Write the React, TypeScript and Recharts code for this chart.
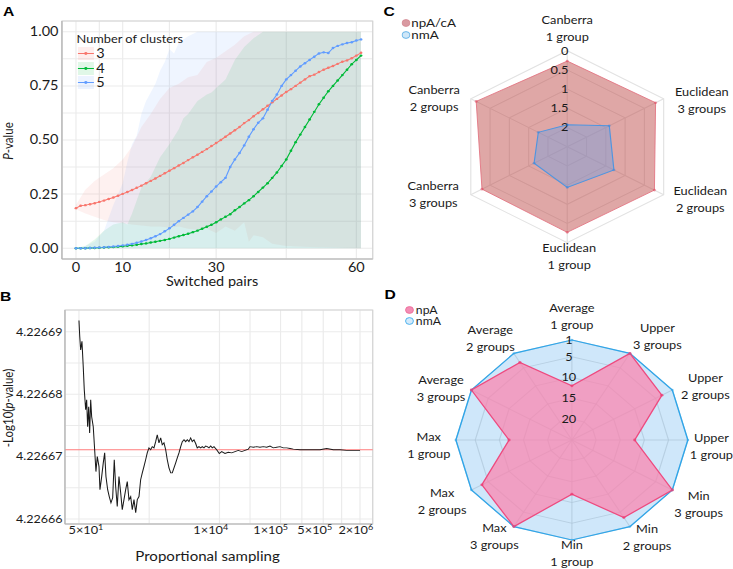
import React from 'react';
import {
  ComposedChart,
  LineChart,
  Line,
  Area,
  XAxis,
  YAxis,
  CartesianGrid,
  Legend,
  ReferenceLine,
  ReferenceArea,
  Label,
  RadarChart,
  Radar,
  PolarGrid,
  PolarAngleAxis,
  PolarRadiusAxis,
} from 'recharts';

const FONT = 'Lato, "Open Sans", sans-serif';
const INK = '#1a1a1a';
const AXIS_GRAY = '#b3b3b3';
const GRID_GRAY = '#ebebeb';
// the published figure is stretched horizontally, so everything is drawn narrower and scaled
const STRETCH = 1.16;

// ---------- Panel A: P-value vs switched pairs ----------
const switchedPairs = [
  0, 1, 2, 3, 4, 5, 6, 7, 8, 9, 10, 11, 12, 13, 14, 15, 16, 17, 18, 19, 20, 21, 22, 23, 24, 25, 26, 27, 28, 29,
  30, 31, 32, 33, 34, 35, 36, 37, 38, 39, 40, 41, 42, 43, 44, 45, 46, 47, 48, 49, 50, 51, 52, 53, 54, 55, 56, 57,
  58, 59, 60, 61,
];
const pvalK3 = [
  0.185, 0.196, 0.199, 0.203, 0.208, 0.214, 0.22, 0.227, 0.234, 0.242,
  0.251, 0.26, 0.269, 0.279, 0.289, 0.3, 0.311, 0.322, 0.334, 0.346,
  0.358, 0.37, 0.382, 0.394, 0.407, 0.42, 0.432, 0.445, 0.458, 0.472,
  0.486, 0.5, 0.515, 0.53, 0.545, 0.56, 0.578, 0.592, 0.61, 0.625,
  0.642, 0.658, 0.674, 0.69, 0.706, 0.722, 0.735, 0.75, 0.765, 0.78,
  0.795, 0.802, 0.814, 0.825, 0.834, 0.842, 0.852, 0.862, 0.868, 0.878,
  0.89, 0.903,
];
const pvalK4 = [
  0, 0, 0, 0.001, 0.001, 0.002, 0.003, 0.004, 0.005, 0.007,
  0.009, 0.011, 0.013, 0.016, 0.019, 0.022, 0.026, 0.03, 0.034, 0.038,
  0.043, 0.049, 0.055, 0.061, 0.067, 0.074, 0.081, 0.09, 0.099, 0.108,
  0.12, 0.133, 0.145, 0.157, 0.175, 0.19, 0.207, 0.222, 0.24, 0.26,
  0.28, 0.3, 0.325, 0.35, 0.38, 0.41, 0.45, 0.49, 0.525, 0.56,
  0.595, 0.63, 0.665, 0.695, 0.725, 0.75, 0.775, 0.8, 0.825, 0.85,
  0.87, 0.89,
];
const pvalK5 = [
  0, 0, 0, 0.001, 0.002, 0.003, 0.004, 0.006, 0.008, 0.01,
  0.013, 0.016, 0.02, 0.025, 0.031, 0.038, 0.046, 0.055, 0.065, 0.078,
  0.092, 0.108, 0.125, 0.14, 0.155, 0.17, 0.19, 0.215, 0.24, 0.262,
  0.285, 0.305, 0.325, 0.375, 0.41, 0.44, 0.475, 0.515, 0.55, 0.58,
  0.6, 0.64, 0.68, 0.71, 0.75, 0.78, 0.8, 0.82, 0.84, 0.855,
  0.87, 0.885, 0.9, 0.905, 0.902, 0.925, 0.935, 0.942, 0.948, 0.952,
  0.96, 0.965,
];

// ribbons (range of p-values)
const ribbonK3X = [0, 2, 4, 6, 8, 10, 12, 14, 16, 18, 20, 22, 24, 26, 28, 30, 32, 34, 36, 37, 38, 40, 42, 45, 50, 55, 61];
const ribbonK3Low = [
  0.18, 0.16, 0.145, 0.13, 0.12, 0.115, 0.11, 0.105, 0.1, 0.1, 0.095, 0.1, 0.09, 0.085, 0.09, 0.07, 0.1, 0.08, 0.12,
  0.03, 0.06, 0.05, 0.02, 0.01, 0.005, 0.003, 0,
];
const ribbonK3High = [
  0.2, 0.27, 0.31, 0.34, 0.37, 0.41, 0.47, 0.56, 0.62, 0.69, 0.74, 0.76, 0.79, 0.8, 0.86, 0.88, 0.91, 0.94, 0.98,
  0.99, 1, 1, 1, 1, 1, 1, 1,
];
const ribbonK4X = [0, 2, 4, 6, 8, 10, 11, 12, 13, 14, 16, 18, 20, 22, 23, 24, 26, 28, 29, 30, 32, 34, 36, 38, 40, 42, 61];
const ribbonK4Low = [0, 0, 0, 0, 0, 0, 0, 0, 0, 0, 0, 0, 0, 0, 0, 0, 0, 0, 0, 0, 0, 0, 0, 0, 0, 0, 0];
const ribbonK4High = [
  0, 0.01, 0.04, 0.08, 0.11, 0.12, 0.11, 0.16, 0.22, 0.28, 0.33, 0.42, 0.48, 0.55, 0.6, 0.62, 0.68, 0.71, 0.72,
  0.74, 0.78, 0.87, 0.93, 0.97, 1, 1, 1,
];
const ribbonK5X = [0, 2, 4, 6, 8, 10, 11, 12, 13, 14, 15, 16, 17, 18, 19, 20, 21, 22, 24, 26, 61];
const ribbonK5Low = [0, 0, 0, 0, 0, 0, 0, 0, 0, 0, 0, 0, 0, 0, 0, 0, 0, 0, 0, 0, 0];
const ribbonK5High = [0, 0.01, 0.03, 0.08, 0.2, 0.3, 0.4, 0.48, 0.52, 0.62, 0.68, 0.72, 0.76, 0.82, 0.86, 0.92, 0.9, 0.95, 0.98, 1, 1];

const clusterLabels = ['3', '4', '5'];
const clusterColors = ['#F8766D', '#00BA38', '#619CFF'];
const aXGrid = [0, 5, 10, 20, 30, 45, 60];
const aXLabelled = [0, 10, 30, 60];
const aYGrid = [0, 0.125, 0.25, 0.375, 0.5, 0.625, 0.75, 0.875, 1];

// ---------- Panel B: -log10(p) vs proportional sampling ----------
// x is log10 of the sampling size
const samplingLog = [
  1.699, 1.712, 1.727, 1.748, 1.769, 1.786, 1.809, 1.825, 1.841, 1.858, 1.874, 1.891, 1.907, 1.933, 1.956, 1.977,
  1.999, 2.027, 2.043, 2.071, 2.097, 2.12, 2.141, 2.169, 2.195, 2.223, 2.251, 2.277, 2.3, 2.326, 2.354, 2.382,
  2.408, 2.436, 2.464, 2.49, 2.518, 2.546, 2.572, 2.6, 2.628, 2.654, 2.682, 2.709, 2.736, 2.763, 2.791, 2.817,
  2.845, 2.873, 2.899, 2.927, 2.955, 2.981, 3.009, 3.037, 3.063, 3.091, 3.119, 3.145, 3.173, 3.201, 3.227, 3.255,
  3.283, 3.309, 3.337, 3.365, 3.391, 3.419, 3.446, 3.473, 3.5, 3.528, 3.554, 3.582, 3.61, 3.636, 3.664, 3.692,
  3.718, 3.746, 3.774, 3.8, 3.828, 3.856, 3.882, 3.91, 3.954, 3.997, 4.036, 4.09, 4.144, 4.2, 4.254, 4.308, 4.363,
  4.418, 4.472, 4.499, 4.554, 4.609, 4.663, 4.717, 4.773, 4.827, 4.881, 4.937, 4.991, 5.045, 5.101, 5.155, 5.209,
  5.318, 5.428, 5.536, 5.646, 5.755, 5.864, 5.973, 6.083, 6.191, 6.301,
];
const negLogP = [
  4.2266918, 4.2266892, 4.2266871, 4.2266885, 4.2266844, 4.2266807, 4.2266775, 4.2266791, 4.2266748, 4.226678,
  4.2266738, 4.2266791, 4.2266764, 4.2266748, 4.2266711, 4.2266676, 4.22667, 4.2266684, 4.2266647, 4.2266668,
  4.226669, 4.2266706, 4.2266668, 4.2266647, 4.2266636, 4.2266626, 4.2266634, 4.2266695, 4.2266652, 4.226662,
  4.2266668, 4.2266642, 4.2266615, 4.2266631, 4.2266647, 4.226666, 4.2266631, 4.2266636, 4.2266615, 4.2266631,
  4.226661, 4.2266631, 4.2266636, 4.2266663, 4.2266674, 4.2266684, 4.2266695, 4.2266706, 4.2266714, 4.2266711,
  4.2266716, 4.2266714, 4.2266724, 4.2266735, 4.2266722, 4.226673, 4.2266719, 4.2266722, 4.2266711, 4.2266695,
  4.2266682, 4.2266674, 4.2266674, 4.2266682, 4.226669, 4.2266698, 4.2266706, 4.2266716, 4.2266724, 4.2266727,
  4.2266724, 4.2266727, 4.2266724, 4.226673, 4.2266724, 4.2266727, 4.2266721, 4.2266714, 4.2266716, 4.2266714,
  4.2266716, 4.2266714, 4.2266717, 4.2266716, 4.2266714, 4.2266717, 4.2266714, 4.2266716, 4.2266711, 4.2266705,
  4.2266708, 4.2266705, 4.2266707, 4.2266706, 4.2266708, 4.226671, 4.2266708, 4.226671, 4.2266712, 4.2266716,
  4.2266715, 4.2266716, 4.2266715, 4.2266716, 4.2266715, 4.2266717, 4.2266714, 4.2266715, 4.2266716, 4.2266714,
  4.2266714, 4.2266713, 4.2266712, 4.2266711, 4.2266711, 4.2266711, 4.2266711, 4.2266713, 4.2266711, 4.2266711,
  4.226671, 4.226671, 4.226671,
];
const observedNegLogP = 4.2266711;
const negLogPDomain = [4.2266592, 4.2266935];
const samplingDomain = [1.4697, 6.509];
const samplingTicks = [1.69897, 4, 5, 5.69897, 6.30103];
const samplingTickBase = ['5', '1', '1', '5', '2'];
const samplingTickExp = ['1', '4', '5', '5', '6'];
const samplingTickNudge = [6, -7.5, -8.5, -7.3, -3.6];
const samplingGrid = [1.69897, 2.849, 4, 4.5, 5, 5.349, 5.69897, 6, 6.30103];
const negLogPGrid = [4.22666, 4.226665, 4.22667, 4.226675, 4.22668, 4.226685, 4.22669];

// ---------- Panel C: distance metrics radar ----------
const distanceAxes = [
  'Canberra\n1 group',
  'Euclidean\n3 groups',
  'Euclidean\n2 groups',
  'Euclidean\n1 group',
  'Canberra\n3 groups',
  'Canberra\n2 groups',
];
const distNpAcA = [0.27, 0.21, 0.24, 0.27, 0.29, 0.14];
const distNmA = [1.93, 1.41, 1.29, 1.44, 1.64, 1.75];
const distTicks = [0, 0.5, 1, 1.5, 2];
// axis runs reversed: 0 at the rim, 2.5 at the centre; plotted on a 0..24 radial scale
const distScaleMax = 2.5;
const distToRadial = 24 / distScaleMax;
const C_LABEL_POS = [[0, -118.5], [116, -46.4], [114.7, 52.8], [1.7, 110.2], [-115.5, 48.2], [-114.7, -48.2]];

// ---------- Panel D: linkage radar (ranks) ----------
const linkageAxes = [
  'Average\n1 group',
  'Upper\n3 groups',
  'Upper\n2 groups',
  'Upper\n1 group',
  'Min\n3 groups',
  'Min\n2 groups',
  'Min\n1 group',
  'Max\n3 groups',
  'Max\n2 groups',
  'Max\n1 group',
  'Average\n3 groups',
  'Average\n2 groups',
];
const rankNpA = [12, 1, 3.5, 12, 1, 3.5, 12, 1, 3.5, 12, 1, 3.5];
const rankNmA = [1, 1, 1, 1, 1, 1, 1, 1, 1, 1, 1, 1];
const rankTicks = [1, 5, 10, 15, 20];
const rankScaleMax = 25; // rank 1 at the rim
const D_LABEL_POS = [
  [0, -123], [73.7, -103], [115.1, -53], [120.3, 6.3], [109.3, 64.3], [64.8, 98],
  [0, 113.3], [-66.8, 96.7], [-111.9, 61.3], [-123.4, 5.5], [-112.8, -51.7], [-70.3, -101.3],
];

const LABEL_LINE = 17;

function makeAngleTick(labels: string[], pos: number[][], cx: number, cy: number) {
  return function AngleTick(props: any) {
    const value = props.payload?.value as string;
    const i = labels.indexOf(value);
    if (i < 0) return null;
    const x = cx + pos[i][0];
    const y = cy + pos[i][1];
    const lines = value.split('\n');
    return (
      <text x={x} y={y} textAnchor="middle" fontSize={11} fill={INK}>
        {lines.map((ln, j) => (
          <tspan key={j} x={x} dy={j === 0 ? -LABEL_LINE / 2 + 3.9 : LABEL_LINE}>
            {ln}
          </tspan>
        ))}
      </text>
    );
  };
}

function makeRadiusTick(toLabel: (v: number) => string, dx: number, anchor: 'end' | 'middle') {
  return function RadiusTick(props: any) {
    const v = props.payload?.value;
    if (v === undefined || v <= 0) return null;
    return (
      <text x={props.x + dx} y={props.y} dy="0.35em" textAnchor={anchor} fontSize={11} fill={INK}>
        {toLabel(v)}
      </text>
    );
  };
}

function RadarKey({ items, fontSize, rowH }: { items: { label: string; fill: string; stroke: string }[]; fontSize: number; rowH: number }) {
  return (
    <div style={{ fontFamily: FONT, fontSize, color: INK, lineHeight: `${rowH}px` }}>
      {items.map((it) => (
        <div key={it.label} style={{ display: 'flex', alignItems: 'center', height: rowH }}>
          <svg width={8} height={8} style={{ marginRight: 1 }}>
            <circle cx={4} cy={4} r={3.4} fill={it.fill} stroke={it.stroke} strokeWidth={0.8} />
          </svg>
          <span>{it.label}</span>
        </div>
      ))}
    </div>
  );
}

function ClusterLegend() {
  return (
    <div style={{ fontFamily: FONT, color: INK }}>
      <div style={{ fontSize: 11, lineHeight: '14.5px', marginLeft: -1 }}>Number of clusters</div>
      {clusterLabels.map((lab, i) => (
        <div key={lab} style={{ display: 'flex', alignItems: 'center', height: 14.5 }}>
          <svg width={14} height={13}>
            <rect x={0} y={0} width={14} height={13} fill={clusterColors[i]} fillOpacity={0.12} />
            <line x1={0} x2={14} y1={6.5} y2={6.5} stroke={clusterColors[i]} strokeWidth={1} />
            <circle cx={7} cy={6.5} r={1.4} fill={clusterColors[i]} />
          </svg>
          <span style={{ fontSize: 12.5, marginLeft: 2 }}>{lab}</span>
        </div>
      ))}
    </div>
  );
}

function PanelA() {
  const lineData = switchedPairs.map((x, i) => ({ x, k3: pvalK3[i], k4: pvalK4[i], k5: pvalK5[i] }));
  const band = (xs: number[], lo: number[], hi: number[]) => xs.map((x, i) => ({ x, band: [lo[i], hi[i]] }));
  const ribbons = [
    band(ribbonK3X, ribbonK3Low, ribbonK3High),
    band(ribbonK4X, ribbonK4Low, ribbonK4High),
    band(ribbonK5X, ribbonK5Low, ribbonK5High),
  ];
  return (
    <ComposedChart width={325} height={290} data={lineData} margin={{ top: 21, right: 3.7, bottom: 0, left: 0 }}>
      <CartesianGrid stroke={GRID_GRAY} />
      <ReferenceArea x1={-3} x2={63.5} y1={-0.05} y2={1.05} fill="none" stroke="#d4d4d4" ifOverflow="visible" />
      <XAxis
        dataKey="x"
        type="number"
        domain={[-3, 63.5]}
        ticks={aXGrid}
        interval={0}
        allowDataOverflow
        tickFormatter={(v: number) => (aXLabelled.includes(v) ? String(v) : '')}
        height={31}
        tickLine={false}
        tickSize={2}
        tickMargin={2}
        axisLine={{ stroke: AXIS_GRAY }}
        tick={{ fontSize: 12.5, fill: INK }}
      >
        <Label
          content={() => (
            <text x={182.8} y={286} textAnchor="middle" fontSize={12.5} fill={INK}>
              Switched pairs
            </text>
          )}
        />
      </XAxis>
      <YAxis
        type="number"
        domain={[-0.05, 1.05]}
        ticks={aYGrid}
        interval={0}
        allowDataOverflow
        tickFormatter={(v: number, i: number) => (i % 2 === 0 ? v.toFixed(2) : '')}
        width={53.4}
        tickLine={false}
        tickSize={3}
        tickMargin={0}
        axisLine={{ stroke: AXIS_GRAY }}
        tick={{ fontSize: 12.5, fill: INK }}
      >
        <Label
          content={() => (
            <text transform="translate(7,141) rotate(-90)" textAnchor="middle" dominantBaseline="central" fontSize={11.5} fill={INK}>
              <tspan fontStyle="italic">P</tspan>-value
            </text>
          )}
        />
      </YAxis>
      {ribbons.map((d, i) => (
        <Area
          key={`rib${i}`}
          data={d}
          dataKey="band"
          type="linear"
          stroke="none"
          fill={clusterColors[i]}
          fillOpacity={0.1}
          isAnimationActive={false}
          activeDot={false}
          dot={false}
          legendType="none"
        />
      ))}
      {['k3', 'k4', 'k5'].map((k, i) => (
        <Line
          key={k}
          dataKey={k}
          type="linear"
          stroke={clusterColors[i]}
          strokeWidth={1}
          dot={{ r: 1.2, fill: clusterColors[i], stroke: 'none' }}
          activeDot={false}
          isAnimationActive={false}
        />
      ))}
      <Legend
        content={() => <ClusterLegend />}
        layout="vertical"
        align="center"
        verticalAlign="middle"
        wrapperStyle={{ left: 67, top: 32, width: 120 }}
      />
    </ComposedChart>
  );
}

function SamplingTick(props: any) {
  const i = samplingTicks.findIndex((t) => Math.abs(t - props.payload?.value) < 1e-6);
  if (i < 0) return null;
  return (
    <text x={props.x + samplingTickNudge[i]} y={props.y} dy="0.71em" textAnchor="middle" fontSize={11} fill={INK}>
      {samplingTickBase[i]}×10
      <tspan dy={-4} fontSize={7.8}>
        {samplingTickExp[i]}
      </tspan>
    </text>
  );
}

function PanelB() {
  const data = samplingLog.map((x, i) => ({ x, y: negLogP[i] }));
  return (
    <LineChart width={325} height={289} data={data} margin={{ top: 30, right: 3.7, bottom: 0, left: 0 }}>
      <CartesianGrid stroke={GRID_GRAY} />
      <ReferenceArea
        x1={samplingDomain[0]}
        x2={samplingDomain[1]}
        y1={negLogPDomain[0]}
        y2={negLogPDomain[1]}
        fill="none"
        stroke="#d4d4d4"
        ifOverflow="visible"
      />
      <XAxis
        dataKey="x"
        type="number"
        domain={samplingDomain}
        ticks={samplingGrid}
        interval={0}
        allowDataOverflow
        height={45}
        tickLine={false}
        tickSize={2}
        tickMargin={0}
        axisLine={{ stroke: AXIS_GRAY }}
        tick={<SamplingTick />}
      >
        <Label
          content={() => (
            <text x={178.9} y={281} textAnchor="middle" fontSize={13} fill={INK}>
              Proportional sampling
            </text>
          )}
        />
      </XAxis>
      <YAxis
        type="number"
        domain={negLogPDomain}
        ticks={negLogPGrid}
        interval={0}
        allowDataOverflow
        tickFormatter={(v: number, i: number) => (i % 2 === 0 ? v.toFixed(5) : '')}
        width={56}
        tickLine={false}
        tickSize={2}
        tickMargin={0}
        axisLine={{ stroke: AXIS_GRAY }}
        tick={{ fontSize: 10.8, fill: INK }}
      >
        <Label
          content={() => (
            <text transform="translate(7,128) rotate(-90)" textAnchor="middle" dominantBaseline="central" fontSize={11.5} fill={INK}>
              -Log10(<tspan fontStyle="italic">p</tspan>-value)
            </text>
          )}
        />
      </YAxis>
      <ReferenceLine y={observedNegLogP} stroke="#ff7b7b" strokeWidth={1.2} />
      <Line dataKey="y" type="linear" stroke={INK} strokeWidth={0.9} dot={false} activeDot={false} isAnimationActive={false} />
    </LineChart>
  );
}

function PanelC() {
  const cx = 150;
  const cy = 146.7;
  const toR = (v: number) => (distScaleMax - v) * distToRadial;
  const data = distanceAxes.map((axis, i) => ({ axis, npAcA: toR(distNpAcA[i]), nmA: toR(distNmA[i]) }));
  return (
    <RadarChart width={300} height={280} cx={cx} cy={cy} outerRadius={96} data={data} margin={{ top: 0, right: 0, bottom: 0, left: 0 }}>
      <PolarGrid gridType="polygon" stroke="#e2e2e2" />
      <PolarAngleAxis dataKey="axis" tick={makeAngleTick(distanceAxes, C_LABEL_POS, cx, cy)} tickLine={false} axisLine={false} />
      <Radar
        name="npA/cA"
        dataKey="npAcA"
        stroke="#e2727f"
        strokeWidth={0.8}
        fill="#c0504d"
        fillOpacity={0.5}
        dot={{ r: 1.3, fill: '#e23b55', stroke: 'none' }}
        isAnimationActive={false}
      />
      <Radar
        name="nmA"
        dataKey="nmA"
        stroke="#4f95e0"
        strokeWidth={1}
        fill="#6d9de2"
        fillOpacity={0.42}
        dot={{ r: 1.3, fill: '#2f84df', stroke: 'none' }}
        isAnimationActive={false}
      />
      <PolarRadiusAxis
        domain={[0, 24]}
        allowDataOverflow
        ticks={distTicks.map(toR)}
        angle={90}
        axisLine={false}
        tickLine={false}
        tick={makeRadiusTick((r) => String(Number((distScaleMax - r / distToRadial).toFixed(2))), 1, 'end')}
      />
      <Legend
        content={() => (
          <RadarKey
            fontSize={11.5}
            rowH={12}
            items={[
              { label: 'npA/cA', fill: '#d99aa1', stroke: '#d58b94' },
              { label: 'nmA', fill: '#cfe7f8', stroke: '#5aaee6' },
            ]}
          />
        )}
        layout="vertical"
        align="center"
        verticalAlign="middle"
        wrapperStyle={{ left: 6.8, top: 16.7, width: 80 }}
      />
    </RadarChart>
  );
}

function PanelD() {
  const cx = 150;
  const cy = 160;
  const toR = (v: number) => rankScaleMax - v;
  const data = linkageAxes.map((axis, i) => ({ axis, npA: toR(rankNpA[i]), nmA: toR(rankNmA[i]) }));
  return (
    <RadarChart width={300} height={289} cx={cx} cy={cy} outerRadius={100} data={data} margin={{ top: 0, right: 0, bottom: 0, left: 0 }}>
      <PolarGrid gridType="polygon" stroke="#bcbcbc" strokeOpacity={0.7} />
      <PolarAngleAxis dataKey="axis" tick={makeAngleTick(linkageAxes, D_LABEL_POS, cx, cy)} tickLine={false} axisLine={false} />
      <Radar
        name="nmA"
        dataKey="nmA"
        stroke="#2fa6ea"
        strokeWidth={1.2}
        fill="#9fd0f5"
        fillOpacity={0.5}
        dot={{ r: 1.2, fill: '#2fa6ea', stroke: 'none' }}
        isAnimationActive={false}
      />
      <Radar
        name="npA"
        dataKey="npA"
        stroke="#ee4a7f"
        strokeWidth={1.2}
        fill="#fd80ab"
        fillOpacity={0.7}
        dot={{ r: 1.4, fill: '#ec3b72', stroke: 'none' }}
        isAnimationActive={false}
      />
      <PolarRadiusAxis
        domain={[0, rankScaleMax - 1]}
        allowDataOverflow
        ticks={rankTicks.map(toR)}
        angle={90}
        axisLine={false}
        tickLine={false}
        tick={makeRadiusTick((r) => String(rankScaleMax - r), -2.6, 'middle')}
      />
      <Legend
        content={() => (
          <RadarKey
            fontSize={10.5}
            rowH={11}
            items={[
              { label: 'npA', fill: '#f38db4', stroke: '#ee6d9a' },
              { label: 'nmA', fill: '#d3eafb', stroke: '#3aa9ea' },
            ]}
          />
        )}
        layout="vertical"
        align="center"
        verticalAlign="middle"
        wrapperStyle={{ left: 6.8, top: 24.5, width: 60 }}
      />
    </RadarChart>
  );
}

function PanelLetter({ letter, left, top }: { letter: string; left: number; top: number }) {
  return (
    <div
      style={{
        position: 'absolute',
        left,
        top,
        fontFamily: '"Liberation Sans", Arial, sans-serif',
        fontWeight: 700,
        fontSize: 13.5,
        lineHeight: 1,
        color: '#000',
      }}
    >
      {letter}
    </div>
  );
}

export default function App() {
  return (
    <div
      style={{
        position: 'absolute',
        left: 0,
        top: 0,
        width: 733,
        height: 569,
        overflow: 'hidden',
        background: '#fff',
        fontFamily: FONT,
      }}
    >
      <div
        style={{
          position: 'absolute',
          left: 0,
          top: 0,
          width: 733 / STRETCH,
          height: 569,
          transform: `scaleX(${STRETCH})`,
          transformOrigin: '0 0',
        }}
      >
        <div style={{ position: 'absolute', left: 0, top: 0 }}>
          <PanelA />
        </div>
        <div style={{ position: 'absolute', left: 0, top: 280 }}>
          <PanelB />
        </div>
        <div style={{ position: 'absolute', left: 338.8, top: 0 }}>
          <PanelC />
        </div>
        <div style={{ position: 'absolute', left: 342.7, top: 280 }}>
          <PanelD />
        </div>
        <PanelLetter letter="A" left={2.5} top={4.5} />
        <PanelLetter letter="B" left={0} top={289.5} />
        <PanelLetter letter="C" left={330.5} top={4.5} />
        <PanelLetter letter="D" left={331.5} top={288} />
      </div>
    </div>
  );
}
